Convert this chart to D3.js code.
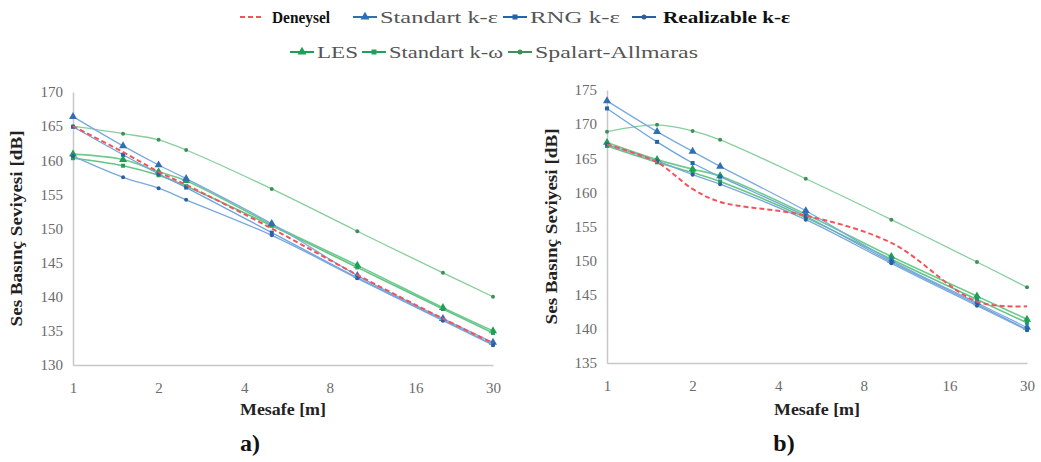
<!DOCTYPE html>
<html>
<head>
<meta charset="utf-8">
<script src="https://cdn.jsdelivr.net/npm/d3@7"></script>
<style>
  body { margin: 0; background: #fff; }
  svg { display: block; }
  svg text { font-family: "Liberation Serif", "Times New Roman", Tinos, "DejaVu Serif", "Noto Serif", serif !important; }
</style>
</head>
<body>
<div id="chart"></div>
<script>
"use strict";

// distances [m] where the values are given
const distances = [1, 1.5, 2, 2.5, 5, 10, 20, 30];
const xTicks = [1, 2, 4, 8, 16, 30];
const yTicksA = [130, 135, 140, 145, 150, 155, 160, 165, 170];
const yTicksB = [135, 140, 145, 150, 155, 160, 165, 170, 175];

const seriesNames = ["Deneysel", "Standart k-ε", "RNG k-ε", "Realizable  k-ε", "LES", "Standart k-ω", "Spalart-Allmaras"];

// panel a)
const deneyselA   = [165.0, 161.2, 158.3, 156.4, 150.0, 143.2, 136.8, 133.2];
const stdKEpsA    = [166.4, 162.1, 159.3, 157.3, 150.7, 143.1, 136.8, 133.3];
const rngKEpsA    = [164.9, 160.8, 158.0, 156.0, 149.4, 142.8, 136.6, 133.0];
const realKEpsA   = [160.6, 157.5, 155.9, 154.2, 149.0, 142.7, 136.5, 132.9];
const lesA        = [160.9, 160.1, 158.3, 157.0, 150.6, 144.6, 138.4, 135.0];
const stdKOmegaA  = [160.3, 159.2, 157.8, 156.2, 150.4, 144.3, 138.2, 134.7];
const spalartA    = [165.0, 163.9, 163.0, 161.5, 155.8, 149.6, 143.5, 140.0];

// panel b)
const deneyselB   = [167.0, 164.4, 160.5, 158.6, 156.6, 152.6, 144.0, 143.3];
const stdKEpsB    = [173.4, 168.9, 166.0, 163.8, 157.3, 150.0, 143.8, 140.2];
const rngKEpsB    = [172.3, 167.4, 164.3, 162.3, 156.5, 149.8, 143.6, 139.9];
const realKEpsB   = [167.0, 164.6, 162.6, 161.2, 156.0, 149.6, 143.4, 139.8];
const lesB        = [167.3, 164.8, 163.4, 162.4, 156.8, 150.6, 144.8, 141.4];
const stdKOmegaB  = [166.8, 164.4, 162.9, 161.6, 156.3, 150.2, 144.3, 140.9];
const spalartB    = [168.9, 169.9, 169.0, 167.7, 162.0, 156.0, 149.8, 146.1];

const styles = [
    { line: "#f2545b", marker: null, dash: "5,3", width: 2 },
    { line: "#7aaade", marker: "triangle", mcolor: "#2f6fb4", width: 1.3 },
    { line: "#6ea4dc", marker: "square", mcolor: "#1f65b0", width: 1.3 },
    { line: "#79a8dc", marker: "circle", mcolor: "#2b5f9e", width: 1.3 },
    { line: "#6fcb8e", marker: "triangle", mcolor: "#1f9e55", width: 1.6 },
    { line: "#66c487", marker: "square", mcolor: "#21a05a", width: 1.6 },
    { line: "#86cf9c", marker: "circle", mcolor: "#3f8f5a", width: 1.3 }
];

const panels = [
    { x0: 73, x1: 493, yTop: 92, yBottom: 365, yMin: 130, yMax: 170, yTicks: yTicksA,
      ytitleX: 22, label: "a)",
      series: [deneyselA, stdKEpsA, rngKEpsA, realKEpsA, lesA, stdKOmegaA, spalartA] },
    { x0: 607, x1: 1027, yTop: 90, yBottom: 363, yMin: 135, yMax: 175, yTicks: yTicksB,
      ytitleX: 557, label: "b)",
      series: [deneyselB, stdKEpsB, rngKEpsB, realKEpsB, lesB, stdKOmegaB, spalartB] }
];

const svg = d3.select("#chart").append("svg")
    .attr("width", 1041)
    .attr("height", 462);

function drawMarker(g, type, x, y, color, size) {
    if (type === "triangle") {
        g.append("path")
            .attr("d", d3.symbol().type(d3.symbolTriangle).size(size * 7)())
            .attr("transform", "translate(" + x + "," + y + ")")
            .attr("fill", color);
    } else if (type === "square") {
        g.append("rect")
            .attr("x", x - size / 2).attr("y", y - size / 2)
            .attr("width", size).attr("height", size)
            .attr("fill", color);
    } else if (type === "circle") {
        g.append("circle")
            .attr("cx", x).attr("cy", y).attr("r", size / 2)
            .attr("fill", color);
    }
}

for (const p of panels) {
    const xScale = d3.scaleLog().base(2).domain([1, 30]).range([p.x0, p.x1]);
    const yScale = d3.scaleLinear().domain([p.yMin, p.yMax]).range([p.yBottom, p.yTop]);

    const g = svg.append("g");

    // axes
    const xAxis = d3.axisBottom(xScale).tickValues(xTicks).tickFormat(d3.format("d")).tickSize(0).tickPadding(17);
    const xg = g.append("g")
        .attr("transform", "translate(0," + p.yBottom + ")")
        .call(xAxis);
    xg.select(".domain").attr("stroke", "#c8c8c8").attr("stroke-width", 1.5);
    xg.selectAll("text").attr("fill", "#6b6b6b").style("font-size", "15px");

    const yAxis = d3.axisLeft(yScale).tickValues(p.yTicks).tickSize(0).tickPadding(10);
    const yg = g.append("g")
        .attr("transform", "translate(" + p.x0 + ",0)")
        .call(yAxis);
    yg.select(".domain").attr("stroke", "#c8c8c8").attr("stroke-width", 1.5);
    yg.selectAll("text").attr("fill", "#6b6b6b").style("font-size", "15px");

    // series, drawn back to front
    const order = [6, 4, 5, 1, 2, 3, 0];
    for (const i of order) {
        const vals = p.series[i];
        const st = styles[i];
        const pts = distances.map((d, k) => [xScale(d), yScale(vals[k])]);
        g.append("path")
            .datum(pts)
            .attr("fill", "none")
            .attr("stroke", st.line)
            .attr("stroke-width", st.width)
            .attr("stroke-dasharray", st.dash || null)
            .attr("d", d3.line().curve(d3.curveCatmullRom.alpha(0.5)));
        if (st.marker) {
            for (const pt of pts) drawMarker(g, st.marker, pt[0], pt[1], st.mcolor, 4);
        }
    }

    // titles
    const mid = (p.x0 + p.x1) / 2;
    g.append("text")
        .attr("x", mid).attr("y", 415)
        .attr("text-anchor", "middle")
        .attr("textLength", 86).attr("lengthAdjust", "spacingAndGlyphs")
        .style("font-size", "16px").style("font-weight", "bold")
        .attr("fill", "#222")
        .text("Mesafe [m]");
    g.append("text")
        .attr("transform", "translate(" + p.ytitleX + "," + ((p.yTop + p.yBottom) / 2) + ") rotate(-90)")
        .attr("text-anchor", "middle")
        .attr("textLength", 196).attr("lengthAdjust", "spacingAndGlyphs")
        .style("font-size", "16px").style("font-weight", "bold")
        .attr("fill", "#222")
        .text("Ses Basınç Seviyesi [dB]");
    g.append("text")
        .attr("x", mid - 33).attr("y", 451)
        .attr("text-anchor", "middle")
        .style("font-size", "24px").style("font-weight", "bold")
        .attr("fill", "#111")
        .text(p.label);
}

// legend
const legendItems = [
    { i: 0, x: 240, y: 17, w: 58 }, { i: 1, x: 353, y: 17, w: 118 }, { i: 2, x: 503, y: 17, w: 90 },
    { i: 3, x: 632, y: 17, w: 127 },
    { i: 4, x: 290, y: 52, w: 41 }, { i: 5, x: 362, y: 52, w: 114 }, { i: 6, x: 508, y: 52, w: 163 }
];
const lg = svg.append("g");
for (const it of legendItems) {
    const st = styles[it.i];
    lg.append("line")
        .attr("x1", it.x).attr("x2", it.x + 24)
        .attr("y1", it.y).attr("y2", it.y)
        .attr("stroke", st.marker ? st.mcolor : st.line)
        .attr("stroke-width", 2)
        .attr("stroke-dasharray", st.dash || null);
    if (st.marker) drawMarker(lg, st.marker, it.x + 12, it.y, st.mcolor, 5);
    const bold = it.i === 0 || it.i === 3;
    lg.append("text")
        .attr("x", it.x + (it.i === 0 ? 32 : it.i === 3 ? 31 : 27))
        .attr("y", it.y + 6)
        .attr("textLength", it.w).attr("lengthAdjust", "spacingAndGlyphs")
        .style("font-size", it.i === 3 ? "17px" : "16px")
        .style("font-weight", bold ? "bold" : "normal")
        .attr("fill", bold ? "#111" : "#555")
        .text(seriesNames[it.i]);
}
</script>
</body>
</html>
